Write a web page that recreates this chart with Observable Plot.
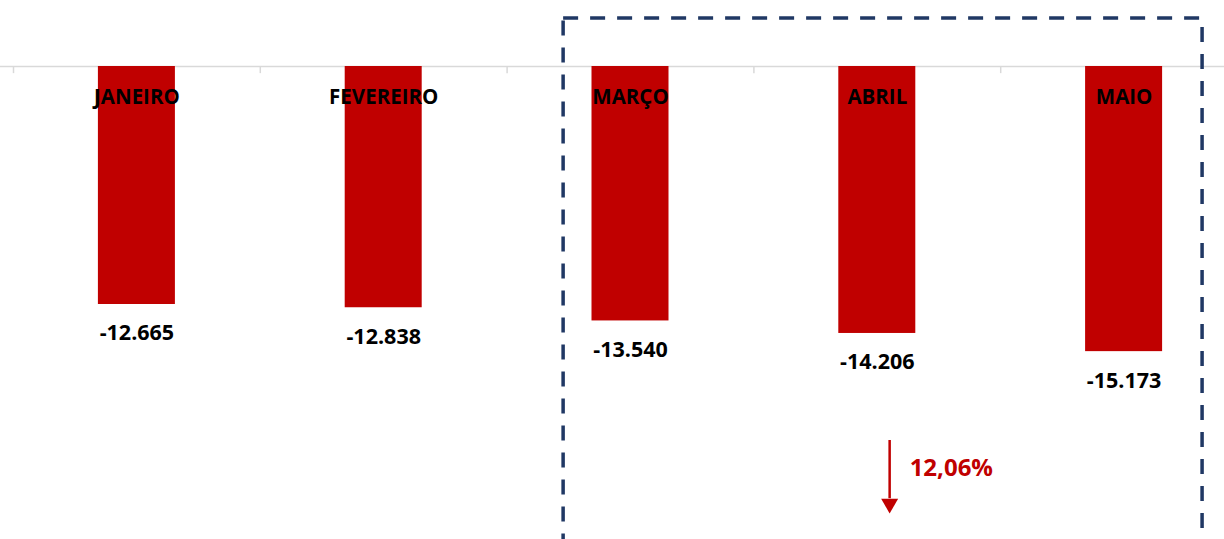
<!DOCTYPE html>
<html>
<head>
<meta charset="utf-8">
<script src="https://cdn.jsdelivr.net/npm/d3@7"></script>
<script src="https://cdn.jsdelivr.net/npm/@observablehq/plot@0.6"></script>
<style>
  html, body { margin: 0; padding: 0; background: #fff; overflow: hidden; }
  #chart svg { overflow: hidden; display: block; }
</style>
</head>
<body>
<div id="chart"></div>
<script>
const months = ["JANEIRO", "FEVEREIRO", "MARÇO", "ABRIL", "MAIO"];
const values = [-12665, -12838, -13540, -14206, -15173];
const valueLabels = ["-12.665", "-12.838", "-13.540", "-14.206", "-15.173"];
const changeLabel = "12,06%";
const highlightMonths = ["MARÇO", "MAIO"];

const data = months.map((m, i) => ({ month: m, i, value: values[i], label: valueLabels[i] }));

const pxPerUnit = 0.018792;
const yMin = -25000;
const barHalf = 0.156;

const hStart = months.indexOf(highlightMonths[0]);
const hEnd = months.indexOf(highlightMonths[1]);
const box = [{ x1: hStart + 0.229, x2: hEnd + 0.818, y1: 2554, y2: -30000 }];

const arrowX = months.indexOf("ABRIL") + 0.55;
const arrow = [{ x: arrowX, y1: -19902, y2: -23000, head: -23265, yText: -21392, label: changeLabel }];

const plot = Plot.plot({
  width: 1224,
  height: 539,
  margin: 0,
  style: { fontFamily: "'Open Sans', Lato, sans-serif", background: "#fff" },
  x: { type: "linear", domain: [0, 5], range: [13, 1247], axis: null },
  y: { domain: [0, yMin], range: [66, 66 + (-yMin) * pxPerUnit], axis: null },
  marks: [
    Plot.ruleY([0], { stroke: "#d9d9d9", strokeWidth: 1.5 }),
    Plot.ruleX([0, 1, 2, 3, 4, 5], { y1: 0, y2: -380, stroke: "#d9d9d9", strokeWidth: 1.5 }),
    Plot.rect(data, {
      x1: d => d.i + 0.5 - barHalf,
      x2: d => d.i + 0.5 + barHalf,
      y1: 0,
      y2: "value",
      fill: "#c00000"
    }),
    Plot.text(data, {
      x: d => d.i + 0.5, y: 0, dy: 31, text: "month",
      fontSize: 20.5, fontWeight: "bold", fill: "#000"
    }),
    Plot.text(data, {
      x: d => d.i + 0.5, y: "value", dy: 29, text: "label",
      fontSize: 21.5, fontWeight: "bold", fill: "#000"
    }),
    Plot.rect(box, {
      x1: "x1", x2: "x2", y1: "y1", y2: "y2",
      fill: "none", stroke: "#203864", strokeWidth: 3.5, strokeDasharray: "15 12"
    }),
    Plot.ruleX(arrow, { x: "x", y1: "y1", y2: "y2", stroke: "#c00000", strokeWidth: 2.5 }),
    Plot.dot(arrow, { x: "x", y: "head", symbol: "triangle", r: 6.3, rotate: 180, fill: "#c00000", stroke: "none" }),
    Plot.text(arrow, {
      x: "x", y: "yText", dx: 20, text: "label", textAnchor: "start",
      fontSize: 24, fontWeight: "bold", fill: "#c00000"
    })
  ]
});
document.getElementById("chart").appendChild(plot);
</script>
</body>
</html>
